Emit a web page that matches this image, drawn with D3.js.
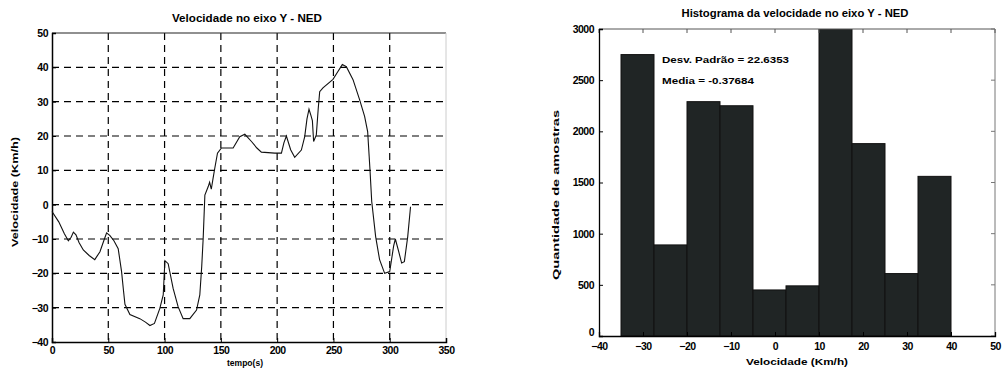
<!DOCTYPE html>
<html>
<head>
<meta charset="utf-8">
<script src="https://cdn.jsdelivr.net/npm/d3@7"></script>
<style>
  html, body { margin: 0; padding: 0; background: #fff; }
  svg { display: block; }
  text { font-family: "Liberation Sans", Arial, sans-serif; font-weight: bold; fill: #000; }
</style>
</head>
<body>
<svg id="chart" width="1004" height="370"></svg>
<script>
// Velocity along the Y axis (NED frame) over time
const tempo = [0, 6, 11, 14.5, 17, 19, 21.3, 24, 27.8, 33, 38, 42.6, 46, 48.5, 51.5, 55, 58.8, 61.8, 63.5, 64.8,
  69.2, 78, 83, 87, 91, 95.8, 98.8, 100.3, 103.2, 107.6, 112, 116.5, 122.4, 128.4, 131.3, 133, 134.3, 135.8,
  138.7, 140, 141.5, 143, 144.6, 147, 150.5, 160.9, 166.8, 171.3, 177.2, 182, 186, 197.9, 203.8, 206, 208.2,
  212, 215.6, 221.5, 224.5, 226.5, 228.3, 230, 231.3, 232.4, 234.8, 236.5, 237.8, 240.7, 249.6, 254, 257.9,
  261.5, 267.4, 273.3, 277.7, 280.4, 282.5, 284, 287.5, 291, 295.5, 300, 303.5, 305, 308, 310.6, 313, 316, 318.5];
const velocidade = [-2, -5, -8.5, -10.5, -9.5, -8, -8.8, -11, -13.2, -14.8, -16, -13.7, -10.5, -8.2, -9, -10.5,
  -12.8, -19.5, -25, -29, -32, -33.2, -34.2, -35.2, -34.6, -30.2, -26.3, -16.3, -17.2, -24.4, -29.7, -33.2,
  -33.2, -30.7, -26.3, -18, -9.8, 2.8, 5.2, 6.5, 4.5, 7.5, 10.6, 15, 16.5, 16.5, 19.8, 20.5, 18.4, 16.5, 15.3,
  15, 15, 18, 20, 16, 13.8, 15.9, 19.8, 25, 27.8, 26, 24.5, 18.4, 20.3, 28, 32.9, 34, 36.5, 38.8, 40.8, 40.2,
  36.4, 30.5, 25.7, 21.3, 10, 1, -9.3, -16, -20, -19.5, -12, -10, -13.7, -17, -16.6, -9.3, -0.6];
const tempoTicks = [0, 50, 100, 150, 200, 250, 300, 350];
const velTicks = [-40, -30, -20, -10, 0, 10, 20, 30, 40, 50];

// Histogram of the same velocity samples
const binStart = [-35, -27.5, -20, -12.5, -5, 2.5, 10, 17.5, 25, 32.5];
const binWidth = 7.5;
const contagem = [2750, 890, 2290, 2250, 450, 490, 3150, 1880, 610, 1560];
const histXTicks = [-40, -30, -20, -10, 0, 10, 20, 30, 40, 50];
const histYTicks = [0, 500, 1000, 1500, 2000, 2500, 3000];
const desvioPadrao = "22.6353";
const media = "-0.37684";

const svg = d3.select("#chart");
const tickFont = "10.5px";

function styleAxis(g, width) {
  g.select(".domain").attr("stroke", "#000").attr("stroke-width", width);
  g.selectAll(".tick line").attr("stroke", "#000");
  g.selectAll("text").style("font-size", tickFont).style("letter-spacing", "-0.5px")
    .style("font-family", "Liberation Sans, Arial, sans-serif").style("font-weight", "bold");
}

// ---------- Left: time series ----------
const L = { x0: 52, x1: 446, y0: 342, y1: 33 };
const xL = d3.scaleLinear().domain([0, 350]).range([L.x0, L.x1]);
const yL = d3.scaleLinear().domain([-40, 50]).range([L.y0, L.y1]);
const gL = svg.append("g");

// dashed grid
gL.selectAll("line.vg").data(tempoTicks.filter(t => t > 0 && t < 350)).join("line")
  .attr("x1", d => xL(d)).attr("x2", d => xL(d)).attr("y1", L.y1).attr("y2", L.y0)
  .attr("stroke", "#000").attr("stroke-width", 1.2).attr("stroke-dasharray", "7,5");
gL.selectAll("line.hg").data(velTicks.filter(v => v > -40 && v < 50)).join("line")
  .attr("x1", L.x0).attr("x2", L.x1).attr("y1", d => yL(d)).attr("y2", d => yL(d))
  .attr("stroke", "#000").attr("stroke-width", 1.2).attr("stroke-dasharray", "7,5");

// frame
gL.append("line").attr("x1", L.x0).attr("x2", L.x1).attr("y1", L.y1).attr("y2", L.y1).attr("stroke", "#222").attr("stroke-width", 1.2);
gL.append("line").attr("x1", L.x1).attr("x2", L.x1).attr("y1", L.y1).attr("y2", L.y0).attr("stroke", "#ccc").attr("stroke-width", 1);

// axes
const axLB = d3.axisBottom(xL).tickValues(tempoTicks).tickSize(-4).tickPadding(5).tickFormat(d3.format("d"));
const axLL = d3.axisLeft(yL).tickValues(velTicks).tickSize(-4).tickPadding(4).tickFormat(d3.format("d"));
const gxL = gL.append("g").attr("transform", `translate(0,${L.y0})`).call(axLB);
const gyL = gL.append("g").attr("transform", `translate(${L.x0},0)`).call(axLL);
styleAxis(gxL, 1.5);
styleAxis(gyL, 1.5);

// velocity trace
const serie = tempo.map((t, i) => [t, velocidade[i]]);
gL.append("path").datum(serie)
  .attr("fill", "none").attr("stroke", "#111").attr("stroke-width", 1.1)
  .attr("d", d3.line().x(d => xL(d[0])).y(d => yL(d[1])));

gL.append("text").attr("x", 247).attr("y", 22).attr("text-anchor", "middle")
  .attr("textLength", 150).attr("lengthAdjust", "spacingAndGlyphs")
  .style("font-size", "10.5px").text("Velocidade no eixo Y - NED");
gL.append("text").attr("x", 245).attr("y", 366).attr("text-anchor", "middle")
  .attr("textLength", 36).attr("lengthAdjust", "spacingAndGlyphs")
  .style("font-size", "9.5px").text("tempo(s)");
gL.append("text").attr("transform", "translate(18,192) rotate(-90)").attr("text-anchor", "middle")
  .attr("textLength", 110).attr("lengthAdjust", "spacingAndGlyphs")
  .style("font-size", "9.5px").text("Velocidade  (Km/h)");

// ---------- Right: histogram ----------
const R = { x0: 599, x1: 995, y0: 336, y1: 29 };
const xR = d3.scaleLinear().domain([-40, 50]).range([R.x0, R.x1]);
const yR = d3.scaleLinear().domain([0, 3000]).range([R.y0, R.y1]);
const gR = svg.append("g");

gR.append("clipPath").attr("id", "histClip").append("rect")
  .attr("x", R.x0).attr("y", R.y1).attr("width", R.x1 - R.x0).attr("height", R.y0 - R.y1);

gR.append("g").attr("clip-path", "url(#histClip)")
  .selectAll("rect").data(binStart).join("rect")
  .attr("x", d => xR(d)).attr("width", xR(binWidth) - xR(0))
  .attr("y", (d, i) => yR(contagem[i])).attr("height", (d, i) => yR(0) - yR(contagem[i]))
  .attr("fill", "#202525").attr("stroke", "#111").attr("stroke-width", 1);

// frame: top and right edges with inward ticks
gR.append("line").attr("x1", R.x0).attr("x2", R.x1).attr("y1", R.y1).attr("y2", R.y1).attr("stroke", "#555");
gR.append("line").attr("x1", R.x1).attr("x2", R.x1).attr("y1", R.y1).attr("y2", R.y0).attr("stroke", "#777");
gR.selectAll("line.tt").data(histXTicks).join("line")
  .attr("x1", d => xR(d)).attr("x2", d => xR(d)).attr("y1", R.y1).attr("y2", R.y1 + 4).attr("stroke", "#555");
gR.selectAll("line.rt").data(histYTicks).join("line")
  .attr("x1", R.x1).attr("x2", R.x1 - 4).attr("y1", d => yR(d)).attr("y2", d => yR(d)).attr("stroke", "#777");

const axRB = d3.axisBottom(xR).tickValues(histXTicks).tickSize(-4).tickPadding(7).tickFormat(d3.format("d"));
const axRL = d3.axisLeft(yR).tickValues(histYTicks).tickSize(-4).tickPadding(5).tickFormat(d3.format("d"));
const gxR = gR.append("g").attr("transform", `translate(0,${R.y0})`).call(axRB);
const gyR = gR.append("g").attr("transform", `translate(${R.x0},0)`).call(axRL);
styleAxis(gxR, 1.3);
styleAxis(gyR, 1.3);
// keep the "0" count label clear of the "-40" velocity label below it
gyR.selectAll(".tick").filter(d => d === 0).select("text").attr("dy", "-0.05em");

gR.append("text").attr("x", 662).attr("y", 63)
  .attr("textLength", 127).attr("lengthAdjust", "spacingAndGlyphs")
  .style("font-size", "9.5px").text("Desv. Padrão = " + desvioPadrao);
gR.append("text").attr("x", 662).attr("y", 84)
  .attr("textLength", 92).attr("lengthAdjust", "spacingAndGlyphs")
  .style("font-size", "9.5px").text("Media = " + media);

gR.append("text").attr("x", 795).attr("y", 17).attr("text-anchor", "middle")
  .attr("textLength", 227).attr("lengthAdjust", "spacingAndGlyphs")
  .style("font-size", "10.5px").text("Histograma da velocidade no eixo Y - NED");
gR.append("text").attr("x", 797).attr("y", 365).attr("text-anchor", "middle")
  .attr("textLength", 102).attr("lengthAdjust", "spacingAndGlyphs")
  .style("font-size", "9.5px").text("Velocidade  (Km/h)");
gR.append("text").attr("transform", "translate(559,195) rotate(-90)").attr("text-anchor", "middle")
  .attr("textLength", 170).attr("lengthAdjust", "spacingAndGlyphs")
  .style("font-size", "9.5px").text("Quantidade de amostras");
</script>
</body>
</html>
